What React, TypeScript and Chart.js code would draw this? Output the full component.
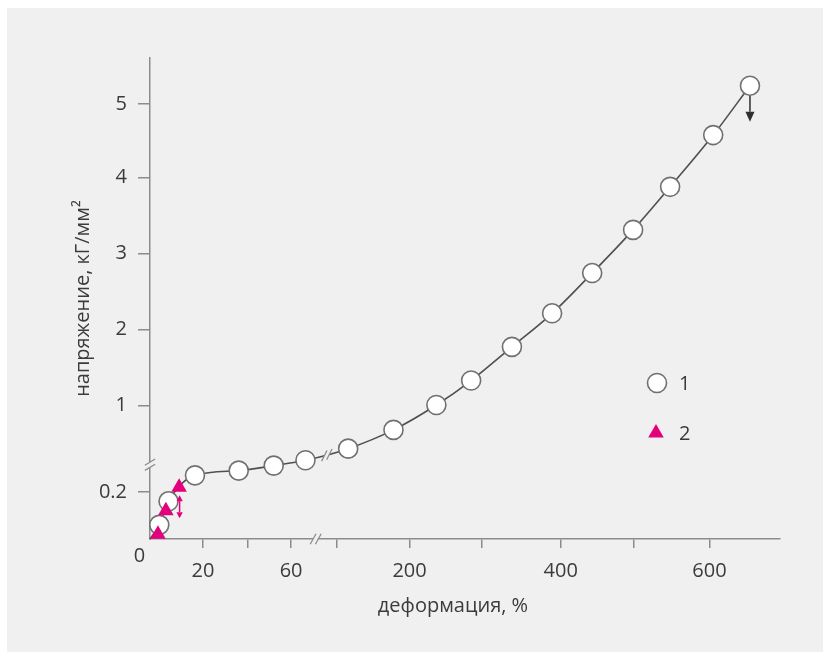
import React, { useEffect, useRef } from "react";
import { Chart, LinearScale, registerables } from "chart.js";

Chart.register(...registerables);

// ---------------- data ----------------
const circleStrain = [3.5, 7, 17, 36, 52, 67, 116, 178, 237, 285, 338, 389, 443, 499, 548, 605, 654];
const circleStress = [0.06, 0.16, 0.27, 0.29, 0.33, 0.39, 0.52, 0.73, 1.01, 1.33, 1.77, 2.21, 2.74, 3.31, 3.88, 4.58, 5.24];
const triangleStrain = [3, 6, 11];
const triangleStress = [0.02, 0.12, 0.22];
const xTickValues = [20, 40, 60, 100, 200, 300, 400, 500, 600];
const xTickLabels = [20, 60, 200, 400, 600];
const yTickValues = [0.2, 1, 2, 3, 4, 5];
const seriesNames = ["1", "2"];
const xTitle = "деформация, %";
const yTitle = "напряжение, кГ/мм²";
const originLabel = "0";
const xBreakValue = 72;
const yBreakValue = 0.34;

// ---------------- broken-axis geometry (value -> fraction of axis) ----------------
type Knot = [number, number];
const AXIS_KNOTS: Record<string, Knot[]> = {
  x: [[0, 0], [20, 0.084], [40, 0.155], [60, 0.224], [72, 0.263], [100, 0.296], [200, 0.412], [300, 0.527], [400, 0.652], [500, 0.768], [600, 0.888], [694, 1]],
  y: [[0, 0], [0.2, 0.098], [0.3, 0.147], [1, 0.277], [2, 0.436], [3, 0.594], [4, 0.751], [5, 0.904], [5.6, 1]],
};

function interp(v: number, knots: Knot[], inverse = false): number {
  const a = inverse ? 1 : 0;
  const b = inverse ? 0 : 1;
  const n = knots.length;
  for (let i = 0; i < n - 1; i++) {
    const k0 = knots[i];
    const k1 = knots[i + 1];
    if (v <= k1[a] || i === n - 2) {
      const t = (v - k0[a]) / (k1[a] - k0[a]);
      return k0[b] + t * (k1[b] - k0[b]);
    }
  }
  return 0;
}

class BrokenScale extends LinearScale {
  static id = "broken";
  static defaults = {};
  getPixelForValue(value: any) {
    if (value === null || value === undefined || isNaN(value)) return NaN;
    return this.getPixelForDecimal(interp(value, AXIS_KNOTS[this.id]));
  }
  getValueForPixel(pixel: number) {
    return interp(this.getDecimalForPixel(pixel), AXIS_KNOTS[this.id], true);
  }
}
Chart.register(BrokenScale as any);

// ---------------- styles ----------------
const FONT = "'Open Sans', 'DejaVu Sans', sans-serif";
const FONT_SIZE = 20;
const TEXT = "#3b3b3b";
const AXIS = "#8c8c8c";
const PANEL = "#f0f0f0";
const CURVE = "#505050";
const CIRCLE_EDGE = "#707070";
const MAGENTA = "#e4007c";

function norm(x: number, y: number): [number, number] {
  const l = Math.hypot(x, y) || 1;
  return [x / l, y / l];
}

function drawBreak(ctx: CanvasRenderingContext2D, cx: number, cy: number, along: [number, number], slash: [number, number]) {
  const [ux, uy] = norm(along[0], along[1]);
  const [sx, sy] = norm(slash[0], slash[1]);
  const g = 2.6;
  const L = 6;
  const Lf = 4.5;
  ctx.save();
  ctx.fillStyle = PANEL;
  ctx.beginPath();
  ctx.moveTo(cx - g * ux + Lf * sx, cy - g * uy + Lf * sy);
  ctx.lineTo(cx - g * ux - Lf * sx, cy - g * uy - Lf * sy);
  ctx.lineTo(cx + g * ux - Lf * sx, cy + g * uy - Lf * sy);
  ctx.lineTo(cx + g * ux + Lf * sx, cy + g * uy + Lf * sy);
  ctx.closePath();
  ctx.fill();
  ctx.strokeStyle = AXIS;
  ctx.lineWidth = 1.3;
  for (const k of [-1, 1]) {
    const px = cx + k * g * ux;
    const py = cy + k * g * uy;
    ctx.beginPath();
    ctx.moveTo(px - L * sx, py - L * sy);
    ctx.lineTo(px + L * sx, py + L * sy);
    ctx.stroke();
  }
  ctx.restore();
}

function drawArrow(ctx: CanvasRenderingContext2D, x: number, y1: number, y2: number, color: string, both: boolean, head: number, half: number) {
  ctx.save();
  ctx.strokeStyle = color;
  ctx.fillStyle = color;
  ctx.lineWidth = 1.5;
  ctx.beginPath();
  ctx.moveTo(x, both ? y1 + head : y1);
  ctx.lineTo(x, y2 - head);
  ctx.stroke();
  ctx.beginPath();
  ctx.moveTo(x, y2);
  ctx.lineTo(x - half, y2 - head);
  ctx.lineTo(x + half, y2 - head);
  ctx.closePath();
  ctx.fill();
  if (both) {
    ctx.beginPath();
    ctx.moveTo(x, y1);
    ctx.lineTo(x - half, y1 + head);
    ctx.lineTo(x + half, y1 + head);
    ctx.closePath();
    ctx.fill();
  }
  ctx.restore();
}

function trianglePath(ctx: CanvasRenderingContext2D, x: number, y: number, r: number) {
  ctx.beginPath();
  for (let i = 0; i < 3; i++) {
    const a = (i * 2 * Math.PI) / 3;
    const px = x + Math.sin(a) * r;
    const py = y - Math.cos(a) * r;
    if (i === 0) ctx.moveTo(px, py);
    else ctx.lineTo(px, py);
  }
  ctx.closePath();
}

const decorPlugin = {
  id: "decor",
  beforeDraw(chart: any) {
    const { ctx, width, height } = chart;
    ctx.save();
    ctx.fillStyle = "#ffffff";
    ctx.fillRect(0, 0, width, height);
    ctx.fillStyle = PANEL;
    ctx.fillRect(7, 8, width - 7, height - 8);
    ctx.restore();
  },
  afterDraw(chart: any) {
    const ctx: CanvasRenderingContext2D = chart.ctx;
    const xs = chart.scales.x;
    const ys = chart.scales.y;
    const area = chart.chartArea;

    // axis breaks
    drawBreak(ctx, xs.getPixelForValue(xBreakValue), area.bottom, [1, 0], [0.55, -1]);
    drawBreak(ctx, area.left, ys.getPixelForValue(yBreakValue), [0, 1], [1, -0.6]);

    // break on the curve
    const i = circleStrain.findIndex((v) => v > xBreakValue);
    if (i > 0) {
      const x0 = xs.getPixelForValue(circleStrain[i - 1]);
      const y0 = ys.getPixelForValue(circleStress[i - 1]);
      const x1 = xs.getPixelForValue(circleStrain[i]);
      const y1 = ys.getPixelForValue(circleStress[i]);
      const mx = (x0 + x1) / 2;
      let my = (y0 + y1) / 2;
      try {
        const line = chart.getDatasetMeta(2).dataset;
        const ip = line && line.interpolate ? line.interpolate({ x: mx }, "x") : null;
        if (ip && !Array.isArray(ip) && isFinite(ip.y)) my = ip.y;
      } catch (e) {}
      drawBreak(ctx, mx, my, [x1 - x0, y1 - y0], [0.5, -1]);
    }

    // arrows
    const last = circleStrain.length - 1;
    const lx = xs.getPixelForValue(circleStrain[last]);
    const ly = ys.getPixelForValue(circleStress[last]);
    drawArrow(ctx, lx, ly + 10, ly + 36, "#2e2e2e", false, 10, 4.5);
    const tx = xs.getPixelForValue(triangleStrain[2]);
    const ty = ys.getPixelForValue(triangleStress[2]);
    drawArrow(ctx, tx + 0.5, ty + 8, ty + 31, MAGENTA, true, 6, 3.2);

    // legend
    ctx.save();
    ctx.beginPath();
    ctx.arc(657, 383, 9.5, 0, Math.PI * 2);
    ctx.fillStyle = "#ffffff";
    ctx.fill();
    ctx.lineWidth = 1.6;
    ctx.strokeStyle = CIRCLE_EDGE;
    ctx.stroke();
    trianglePath(ctx, 656, 433, 9);
    ctx.fillStyle = MAGENTA;
    ctx.fill();
    ctx.fillStyle = TEXT;
    ctx.font = `${FONT_SIZE}px ${FONT}`;
    ctx.textAlign = "left";
    ctx.textBaseline = "middle";
    ctx.fillText(seriesNames[0], 679, 384);
    ctx.fillText(seriesNames[1], 679, 434);

    // origin label
    ctx.textAlign = "center";
    ctx.fillText(originLabel, xs.getPixelForValue(0) - 10.5, ys.getPixelForValue(0) + 17);

    // axis titles
    ctx.fillText(xTitle, 453, 606);
    ctx.translate(83, (area.top + area.bottom) / 2);
    ctx.rotate(-Math.PI / 2);
    ctx.fillText(yTitle, 0, 0);
    ctx.restore();
  },
};

export default function App() {
  const ref = useRef<HTMLCanvasElement>(null);
  useEffect(() => {
    if (!ref.current) return;
    const font = { family: FONT, size: FONT_SIZE };
    const chart = new Chart(ref.current, {
      type: "line",
      data: {
        datasets: [
          {
            label: seriesNames[1],
            data: triangleStrain.map((x, k) => ({ x, y: triangleStress[k] })),
            showLine: false,
            pointStyle: "triangle",
            pointRadius: 9,
            pointBackgroundColor: MAGENTA,
            pointBorderColor: MAGENTA,
            pointBorderWidth: 0,
            clip: false,
          } as any,
          {
            label: seriesNames[0],
            data: circleStrain.map((x, k) => ({ x, y: circleStress[k] })),
            showLine: false,
            pointStyle: "circle",
            pointRadius: 9.5,
            pointBackgroundColor: "#ffffff",
            pointBorderColor: CIRCLE_EDGE,
            pointBorderWidth: 1.6,
            clip: false,
          } as any,
          {
            label: "curve",
            data: [{ x: 0, y: 0 }, ...circleStrain.map((x, k) => ({ x, y: circleStress[k] }))],
            borderColor: CURVE,
            borderWidth: 1.6,
            pointRadius: 0,
            cubicInterpolationMode: "monotone",
            fill: false,
            clip: false,
          } as any,
        ],
      },
      options: {
        animation: false,
        responsive: false,
        events: [],
        layout: { padding: { left: 0, right: 43, top: 58, bottom: 0 } },
        plugins: { legend: { display: false }, tooltip: { enabled: false } },
        scales: {
          x: {
            type: "broken" as any,
            position: "bottom",
            min: 0,
            max: 694,
            afterBuildTicks: (s: any) => {
              s.ticks = xTickValues.map((v) => ({ value: v }));
            },
            afterFit: (s: any) => {
              s.height = 113;
            },
            ticks: {
              autoSkip: false,
              maxRotation: 0,
              padding: 11,
              color: TEXT,
              font,
              callback: (v: any) => (xTickLabels.includes(Number(v)) ? String(v) : ""),
            },
            grid: { display: true, drawOnChartArea: false, drawTicks: true, tickLength: 9, color: AXIS, lineWidth: 1.5 },
            border: { display: true, color: AXIS, width: 1.5 },
          } as any,
          y: {
            type: "broken" as any,
            position: "left",
            min: 0,
            max: 5.6,
            afterBuildTicks: (s: any) => {
              s.ticks = yTickValues.map((v) => ({ value: v }));
            },
            afterFit: (s: any) => {
              s.width = 150;
            },
            ticks: {
              autoSkip: false,
              padding: 11,
              color: TEXT,
              font,
              callback: (v: any) => String(v),
            },
            grid: { display: true, drawOnChartArea: false, drawTicks: true, tickLength: 12, color: AXIS, lineWidth: 1.5 },
            border: { display: true, color: AXIS, width: 1.5 },
          } as any,
        },
      },
      plugins: [decorPlugin],
    });
    return () => chart.destroy();
  }, []);
  return (
    <div style={{ position: "fixed", left: 0, top: 0, width: 823, height: 652 }}>
      <canvas ref={ref} width={823} height={652} style={{ display: "block" }} />
    </div>
  );
}
